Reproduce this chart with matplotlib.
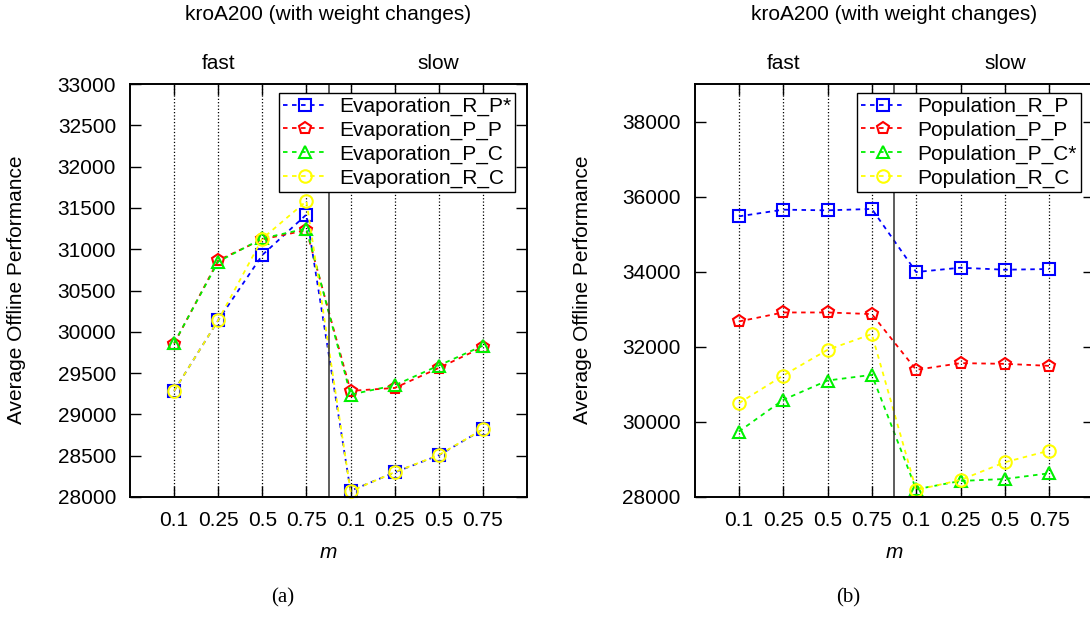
import numpy as np
import matplotlib
matplotlib.use('Agg')
import matplotlib.pyplot as plt

plt.rcParams['font.family'] = ['Liberation Sans', 'DejaVu Sans']

# x categories: four m values for "fast" then four for "slow"
m_labels = ['0.1', '0.25', '0.5', '0.75', '0.1', '0.25', '0.5', '0.75']
x = np.arange(1, 9)

# (a) Evaporation
evap_R_P = [29285, 30140, 30930, 31420, 28075, 28298, 28505, 28818]
evap_P_P = [29856, 30865, 31120, 31230, 29285, 29320, 29562, 29815]
evap_P_C = [29862, 30850, 31130, 31250, 29240, 29352, 29592, 29832]
evap_R_C = [29285, 30140, 31128, 31582, 28070, 28300, 28508, 28820]

# (b) Population
pop_R_P = [35475, 35653, 35635, 35672, 33992, 34107, 34053, 34072]
pop_P_P = [32675, 32915, 32915, 32872, 31387, 31565, 31547, 31493]
pop_P_C = [29742, 30587, 31102, 31253, 28205, 28427, 28480, 28632]
pop_R_C = [30498, 31235, 31920, 32338, 28187, 28453, 28925, 29235]

colors = ['#0000ff', '#ff0000', '#00f000', '#ffff00']
markers = ['s', 'p', '^', 'o']
FS = 15

W, H = 1090, 620
fig = plt.figure(figsize=(W / 100, H / 100), dpi=100)


def panel(rect, series, names, yticks, ylim, leg_anchor, sub):
    ax = fig.add_axes(rect)
    for ys, name, c, mk in zip(series, names, colors, markers):
        ax.plot(x, ys, linestyle=(0, (2.5, 2.5)), lw=1.3, color=c, marker=mk,
                markersize=9, markerfacecolor='none', markeredgewidth=1.5,
                label=name, clip_on=False)
    ax.set_xlim(0, 9)
    ax.set_ylim(*ylim)
    ax.set_xticks(x)
    ax.set_xticklabels(m_labels)
    ax.set_yticks(yticks)
    ax.tick_params(direction='in', length=8, width=1, labelsize=FS,
                   top=True, right=True, pad=10)
    ax.tick_params(axis='x', pad=10)
    ax.grid(axis='x', linestyle=':', color='black', lw=0.9)
    ax.axvline(4.5, color='#303030', lw=1.1)
    for s in ax.spines.values():
        s.set_linewidth(1.4)
    for xx, t in [(2, 'fast'), (7, 'slow')]:
        ax.annotate(t, xy=(xx, 1.0), xycoords=('data', 'axes fraction'),
                    xytext=(0, 15), textcoords='offset points',
                    ha='center', va='center', fontsize=FS)
    leg = ax.legend(loc='upper right', bbox_to_anchor=leg_anchor, borderaxespad=0,
                    fontsize=FS, frameon=True, fancybox=False, framealpha=1,
                    edgecolor='black', handlelength=2.1, handletextpad=0.6,
                    labelspacing=0.22, borderpad=0.2)
    leg.get_frame().set_linewidth(1.0)

    l, b, w, h = rect
    cx = l + w / 2
    fig.text(cx, 1 - 15 / H, 'kroA200 (with weight changes)', ha='center',
             va='center', fontsize=FS)
    fig.text(cx, 1 - 552 / H, 'm', ha='center', va='center', fontsize=FS,
             style='italic')
    fig.text(cx - 46 / W, 1 - 598 / H, sub, ha='center', va='center',
             fontsize=FS, family='Liberation Serif')
    return ax


top, bot = 84, 497
panel([130 / W, 1 - bot / H, 397 / W, (bot - top) / H],
      [evap_R_P, evap_P_P, evap_P_C, evap_R_C],
      ['Evaporation_R_P*', 'Evaporation_P_P', 'Evaporation_P_C', 'Evaporation_R_C'],
      np.arange(28000, 33001, 500), (28000, 33000), (0.971, 0.979), '(a)')
panel([694.5 / W, 1 - bot / H, 399 / W, (bot - top) / H],
      [pop_R_P, pop_P_P, pop_P_C, pop_R_C],
      ['Population_R_P', 'Population_P_P', 'Population_P_C*', 'Population_R_C'],
      np.arange(28000, 38001, 2000), (28000, 39000), (0.968, 0.979), '(b)')

fig.text(17 / W, 1 - 290 / H, 'Average Offline Performance', rotation=90,
         ha='center', va='center', fontsize=FS)
fig.text(583 / W, 1 - 290 / H, 'Average Offline Performance', rotation=90,
         ha='center', va='center', fontsize=FS)

fig.savefig('out.png', dpi=100)
